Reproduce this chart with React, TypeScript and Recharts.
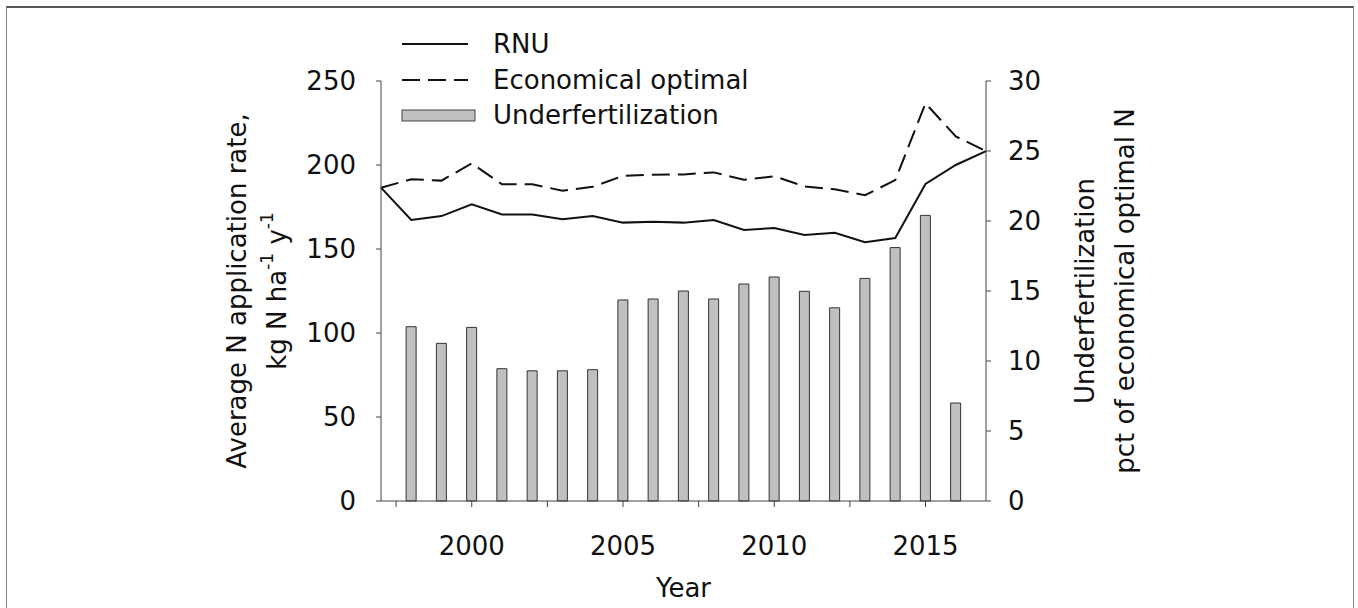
import React from 'react';
import { ComposedChart, Bar, Line, XAxis, YAxis, Legend } from 'recharts';

const years = [1997, 1998, 1999, 2000, 2001, 2002, 2003, 2004, 2005, 2006, 2007, 2008, 2009, 2010, 2011, 2012, 2013, 2014, 2015, 2016, 2017];
const rnu = [186.5, 167.3, 169.6, 176.6, 170.6, 170.6, 167.7, 169.6, 165.7, 166.2, 165.7, 167.3, 161.3, 162.5, 158.3, 159.7, 154, 156.5, 188.7, 200, 208.3];
const optimal = [186.5, 191.5, 190.7, 201, 188.5, 188.5, 184.7, 187, 193.5, 194.2, 194.4, 195.6, 191.2, 193.3, 187.3, 185.5, 182, 191, 236.7, 217, 208.3];
const barYears = [1998, 1999, 2000, 2001, 2002, 2003, 2004, 2005, 2006, 2007, 2008, 2009, 2010, 2011, 2012, 2013, 2014, 2015, 2016];
const underfert = [12.45, 11.26, 12.4, 9.45, 9.3, 9.3, 9.38, 14.36, 14.43, 15.0, 14.43, 15.5, 16.0, 14.98, 13.8, 15.9, 18.1, 20.4, 7.0];

const xTicks = [1997.5, 2000, 2002.5, 2005, 2007.5, 2010, 2012.5, 2015];
const leftTicks = [0, 50, 100, 150, 200, 250];
const rightTicks = [0, 5, 10, 15, 20, 25, 30];

const data = years.map((y, i) => {
  const bi = barYears.indexOf(y);
  return { year: y, rnu: rnu[i], optimal: optimal[i], under: bi >= 0 ? underfert[bi] : null };
});

const FONT = '"DejaVu Sans", Verdana, sans-serif';
const AXIS = '#444';
const TXT = '#111';

const LegendContent = () => (
  <svg width={420} height={110} style={{ display: 'block' }}>
    <line x1={7} x2={73} y1={18} y2={18} stroke="#111" strokeWidth={2} />
    <text x={98} y={18} dominantBaseline="central" fontFamily={FONT} fontSize={26} fill={TXT}>RNU</text>
    <line x1={7} x2={73} y1={54} y2={54} stroke="#111" strokeWidth={2} strokeDasharray="18 8" />
    <text x={98} y={54} dominantBaseline="central" fontFamily={FONT} fontSize={26} fill={TXT}>Economical optimal</text>
    <rect x={7} y={84} width={73} height={11} fill="#c0c0c0" stroke="#444" strokeWidth={1} />
    <text x={98} y={89} dominantBaseline="central" fontFamily={FONT} fontSize={26} fill={TXT}>Underfertilization</text>
  </svg>
);

const LeftTitle = (props: any) => {
  const vb = props.viewBox || { x: 0, y: 81, width: 381, height: 420 };
  const cy = vb.y + vb.height / 2;
  const x1 = 237;
  const x2 = 277;
  return (
    <g fontFamily={FONT} fontSize={26} fill={TXT}>
      <text x={x1} y={cy} textAnchor="middle" dominantBaseline="central" transform={`rotate(-90 ${x1} ${cy})`}>
        Average N application rate,
      </text>
      <text x={x2} y={cy} textAnchor="middle" dominantBaseline="central" transform={`rotate(-90 ${x2} ${cy})`}>
        <tspan>kg N ha</tspan>
        <tspan fontSize={17} dy={-10}>-1</tspan>
        <tspan dy={10}> y</tspan>
        <tspan fontSize={17} dy={-10}>-1</tspan>
      </text>
    </g>
  );
};

const RightTitle = (props: any) => {
  const vb = props.viewBox || { x: 986, y: 81, width: 372, height: 420 };
  const cy = vb.y + vb.height / 2;
  const x1 = 1085;
  const x2 = 1125;
  return (
    <g fontFamily={FONT} fontSize={26} fill={TXT}>
      <text x={x1} y={cy} textAnchor="middle" dominantBaseline="central" transform={`rotate(-90 ${x1} ${cy})`}>
        Underfertilization
      </text>
      <text x={x2} y={cy} textAnchor="middle" dominantBaseline="central" transform={`rotate(-90 ${x2} ${cy})`}>
        pct of economical optimal N
      </text>
    </g>
  );
};

const XTitle = (props: any) => {
  const vb = props.viewBox || { x: 381, y: 501, width: 605, height: 107 };
  const cx = vb.x + vb.width / 2;
  return (
    <text x={cx} y={588} textAnchor="middle" dominantBaseline="central" fontFamily={FONT} fontSize={26} fill={TXT}>
      Year
    </text>
  );
};

export default function App() {
  return (
    <div style={{ position: 'absolute', left: 0, top: 0, width: 1358, height: 608, background: '#fff', overflow: 'hidden' }}>
      <div style={{ position: 'absolute', left: 6, top: 6, width: 1348, height: 640, border: '1px solid #888', borderTop: '2px solid #555', boxSizing: 'border-box' }} />
      <ComposedChart
        width={1358}
        height={608}
        data={data}
        margin={{ top: 81, right: 0, bottom: 0, left: 0 }}
        style={{ position: 'absolute', left: 0, top: 0 }}
      >
        <XAxis
          dataKey="year"
          type="number"
          domain={[1997, 2017]}
          ticks={xTicks}
          interval={0}
          allowDecimals
          height={107}
          tickSize={6}
          tickMargin={30}
          tickFormatter={(v: number) => (v % 5 === 0 ? String(v) : '')}
          stroke={AXIS}
          tick={{ fill: TXT, fontSize: 26, fontFamily: FONT }}
          label={{ content: XTitle }}
        />
        <YAxis
          yAxisId="left"
          orientation="left"
          domain={[0, 250]}
          ticks={leftTicks}
          interval={0}
          width={381}
          tickSize={5}
          tickMargin={20}
          stroke={AXIS}
          tick={{ fill: TXT, fontSize: 26, fontFamily: FONT }}
          label={{ content: LeftTitle }}
        />
        <YAxis
          yAxisId="right"
          orientation="right"
          domain={[0, 30]}
          ticks={rightTicks}
          interval={0}
          width={372}
          tickSize={5}
          tickMargin={17}
          stroke={AXIS}
          tick={{ fill: TXT, fontSize: 26, fontFamily: FONT, textAnchor: 'start' }}
          label={{ content: RightTitle }}
        />
        <Legend
          layout="horizontal"
          verticalAlign="middle"
          align="center"
          content={LegendContent}
          wrapperStyle={{ position: 'absolute', left: 395, top: 26, width: 420 }}
        />
        <Bar yAxisId="right" dataKey="under" name="Underfertilization" barSize={10} fill="#c0c0c0" stroke="#333" strokeWidth={1} isAnimationActive={false} />
        <Line yAxisId="left" dataKey="rnu" name="RNU" type="linear" stroke="#111" strokeWidth={2} dot={false} isAnimationActive={false} />
        <Line yAxisId="left" dataKey="optimal" name="Economical optimal" type="linear" stroke="#111" strokeWidth={2} strokeDasharray="18 8" dot={false} isAnimationActive={false} />
      </ComposedChart>
    </div>
  );
}
